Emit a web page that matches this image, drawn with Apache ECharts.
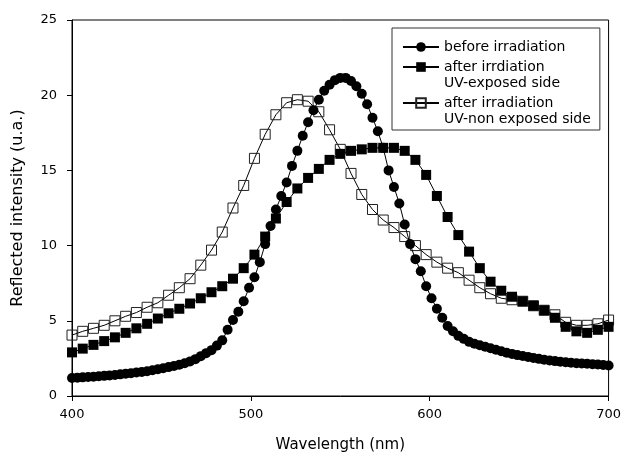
<!DOCTYPE html>
<html>
<head>
<meta charset="utf-8">
<script src="https://cdn.jsdelivr.net/npm/echarts@6/dist/echarts.min.js"></script>
<style>html,body{margin:0;padding:0;background:#fff}#c{width:624px;height:461px}</style>
</head>
<body>
<div id="c"></div>
<script>
var seriesNames = ['before irradiation', 'after irrdiation\nUV-exposed side', 'after irradiation\nUV-non exposed side'];

var wlBefore = [400,403,406,409,412,415,418,421,424,427,430,433,436,439,442,445,448,451,454,457,460,463,466,469,472,475,478,481,484,487,490,493,496,499,502,505,508,511,514,517,520,523,526,529,532,535,538,541,544,547,550,553,556,559,562,565,568,571,574,577,580,583,586,589,592,595,598,601,604,607,610,613,616,619,622,625,628,631,634,637,640,643,646,649,652,655,658,661,664,667,670,673,676,679,682,685,688,691,694,697,700];
var valBefore = [1.20,1.22,1.24,1.26,1.28,1.31,1.34,1.37,1.40,1.44,1.48,1.52,1.56,1.60,1.65,1.71,1.78,1.85,1.92,2.00,2.08,2.18,2.30,2.45,2.65,2.85,3.05,3.35,3.70,4.40,5.05,5.60,6.30,7.20,7.90,8.90,10.1,11.3,12.4,13.3,14.2,15.3,16.3,17.3,18.2,19.0,19.7,20.3,20.7,21.0,21.15,21.15,20.95,20.6,20.1,19.4,18.5,17.6,16.5,15.0,13.9,12.8,11.4,10.1,9.1,8.3,7.3,6.5,5.8,5.2,4.65,4.3,4.0,3.8,3.6,3.48,3.37,3.27,3.17,3.07,2.97,2.88,2.80,2.72,2.66,2.60,2.53,2.47,2.41,2.36,2.32,2.28,2.24,2.21,2.18,2.16,2.14,2.11,2.09,2.06,2.03];

var wlAfter = [400,406,412,418,424,430,436,442,448,454,460,466,472,478,484,490,496,502,508,514,520,526,532,538,544,550,556,562,568,574,580,586,592,598,604,610,616,622,628,634,640,646,652,658,664,670,676,682,688,694,700];
var valExposed = [2.9,3.15,3.4,3.65,3.9,4.2,4.5,4.8,5.15,5.5,5.8,6.15,6.5,6.9,7.3,7.8,8.5,9.4,10.6,11.8,12.9,13.8,14.5,15.1,15.7,16.1,16.3,16.4,16.5,16.5,16.5,16.3,15.7,14.7,13.3,11.9,10.7,9.6,8.5,7.6,7.0,6.6,6.3,6.0,5.7,5.2,4.6,4.3,4.2,4.4,4.6];
var valNonExposed = [4.05,4.3,4.5,4.7,5.0,5.3,5.55,5.9,6.2,6.7,7.2,7.8,8.7,9.7,10.9,12.5,14.0,15.8,17.4,18.7,19.5,19.7,19.6,18.9,17.7,16.4,14.8,13.4,12.4,11.7,11.2,10.6,10.0,9.4,8.9,8.5,8.2,7.7,7.2,6.8,6.5,6.4,6.3,6.0,5.7,5.4,4.9,4.7,4.7,4.8,5.05];

var xTicks = [400, 500, 600, 700];
var yTicks = [0, 5, 10, 15, 20, 25];

function pairs(xs, ys) { return xs.map(function (x, i) { return [x, ys[i]]; }); }

var chart = echarts.init(document.getElementById('c'), null, { renderer: 'canvas' });
var font = 'DejaVu Sans';
chart.setOption({
  animation: false,
  backgroundColor: '#fff',
  grid: { left: 72, right: 12, top: 20, bottom: 65, show: true, borderColor: '#000', borderWidth: 1, backgroundColor: 'transparent' },
  xAxis: {
    type: 'value', min: xTicks[0], max: xTicks[xTicks.length - 1], interval: 100,
    name: 'Wavelength (nm)', nameLocation: 'middle', nameGap: 42,
    nameTextStyle: { fontFamily: font, fontSize: 15, color: '#000' },
    axisLine: { show: true, lineStyle: { color: '#000', width: 1 } },
    axisTick: { show: true, inside: false, length: 5, lineStyle: { color: '#000' } },
    axisLabel: { fontFamily: font, fontSize: 13, color: '#000', margin: 12 },
    splitLine: { show: false }
  },
  yAxis: {
    type: 'value', min: yTicks[0], max: yTicks[yTicks.length - 1], interval: 5,
    name: 'Reflected intensity (u.a.)', nameLocation: 'middle', nameGap: 46,
    nameTextStyle: { fontFamily: font, fontSize: 16, color: '#000' },
    axisLine: { show: true, lineStyle: { color: '#000', width: 1 } },
    axisTick: { show: true, inside: false, length: 5, lineStyle: { color: '#000' } },
    axisLabel: { fontFamily: font, fontSize: 13, color: '#000', margin: 15 },
    splitLine: { show: false }
  },
  legend: {
    orient: 'vertical', left: 392, top: 28,
    padding: [11, 9, 3, 10],
    itemGap: -12, itemWidth: 36, itemHeight: 12,
    borderColor: '#333', borderWidth: 1, backgroundColor: '#fff',
    selectedMode: false,
    textStyle: { fontFamily: font, fontSize: 14, color: '#000', lineHeight: 16 },
    formatter: function (name) { return name.indexOf('\n') >= 0 ? ' \n' + name : name; },
    data: seriesNames.slice()
  },
  series: [
    {
      name: seriesNames[2], type: 'line', data: pairs(wlAfter, valNonExposed),
      symbol: 'rect', symbolSize: 10, showAllSymbol: true,
      lineStyle: { color: '#000', width: 1 },
      itemStyle: { color: 'rgba(255,255,255,0)', borderColor: '#222', borderWidth: 1 },
      z: 2
    },
    {
      name: seriesNames[1], type: 'line', data: pairs(wlAfter, valExposed),
      symbol: 'rect', symbolSize: 10, showAllSymbol: true,
      lineStyle: { color: '#000', width: 1 },
      itemStyle: { color: '#000' },
      z: 3
    },
    {
      name: seriesNames[0], type: 'line', data: pairs(wlBefore, valBefore),
      symbol: 'circle', symbolSize: 10, showAllSymbol: true,
      lineStyle: { color: '#000', width: 1 },
      itemStyle: { color: '#000' },
      z: 4
    }
  ]
});
</script>
</body>
</html>
